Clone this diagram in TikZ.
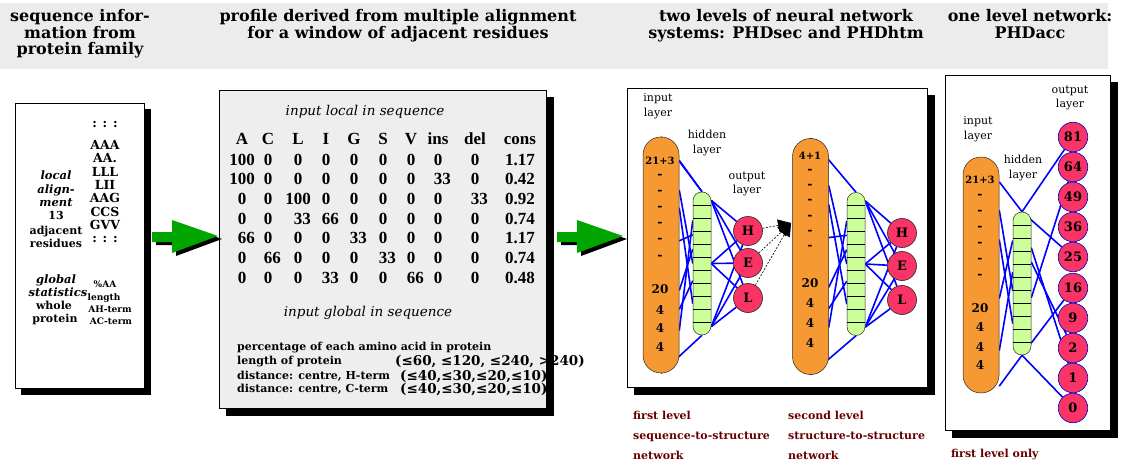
\documentclass[tikz,border=0pt]{standalone}
\usepackage{fontspec}
\setmainfont{Liberation Serif}
\newfontfamily\dvs{DejaVu Serif}
\usetikzlibrary{calc,arrows.meta}

\definecolor{bandgray}{RGB}{236,236,236}
\definecolor{panelgray}{RGB}{238,238,238}
\definecolor{ovalorange}{RGB}{247,153,51}
\definecolor{hidgreen}{RGB}{204,255,153}
\definecolor{outred}{RGB}{250,52,100}
\definecolor{arrowgreen}{RGB}{0,165,0}
\definecolor{notered}{RGB}{102,0,0}

\newcommand\fntHead{\dvs\bfseries\fontsize{16}{16.5}\selectfont}
\newcommand\fntTab{\bfseries\fontsize{17}{17}\selectfont}
\newcommand\fntLbl{\dvs\bfseries\fontsize{11}{11}\selectfont}
\newcommand\fntLblIt{\dvs\bfseries\itshape\fontsize{11.5}{11.5}\selectfont}
\newcommand\fntSeq{\dvs\bfseries\fontsize{12.5}{12.5}\selectfont}
\newcommand\fntSeqSmall{\dvs\bfseries\fontsize{9}{9}\selectfont}
\newcommand\fntItal{\dvs\itshape\fontsize{13.5}{13.5}\selectfont}
\newcommand\fntGlob{\dvs\bfseries\fontsize{11}{11}\selectfont}
\newcommand\fntGlobVal{\dvs\bfseries\fontsize{13.5}{13.5}\selectfont}
\newcommand\fntLayer{\dvs\fontsize{11}{14.5}\selectfont}
\newcommand\fntUnit{\dvs\bfseries\fontsize{12}{12}\selectfont}
\newcommand\fntUnitSmall{\dvs\bfseries\fontsize{10}{10}\selectfont}
\newcommand\fntDash{\dvs\bfseries\fontsize{12.5}{12.5}\selectfont}
\newcommand\fntOut{\dvs\bfseries\fontsize{13}{13}\selectfont}
\newcommand\fntNote{\dvs\bfseries\fontsize{11}{11}\selectfont}

\pgfdeclarelayer{back}
\pgfdeclarelayer{links}
\pgfdeclarelayer{front}
\pgfsetlayers{back,links,main,front}

\tikzset{
  greenarrow/.pic={
    \fill[black] (4,3) -- ++(-46,-16) -- ++(0,12) -- ++(-20,0) -- ++(0,10) -- ++(20,0) -- ++(0,11) -- cycle;
    \fill[arrowgreen] (0,0) -- ++(-46,-16) -- ++(0,12) -- ++(-20,0) -- ++(0,10) -- ++(20,0) -- ++(0,11) -- cycle;
  }
}

\begin{document}
\begin{tikzpicture}[x=1pt,y=-1pt,
  heading/.style={font=\fntHead,align=center,inner sep=0pt,anchor=north},
  panel/.style={draw=black,line width=0.7pt,anchor=north west,inner sep=0pt},
  cell/.style={font=\fntTab,inner sep=0pt,text height=12pt,text depth=0pt},
  lbl/.style={font=\fntLbl,inner sep=0pt,text height=8.3pt,text depth=2.4pt},
  lblit/.style={font=\fntLblIt,inner sep=0pt,text height=8.6pt,text depth=2.5pt},
  seqtag/.style={font=\fntSeq,inner sep=0pt,text height=9.2pt,text depth=0pt},
  seqsmall/.style={font=\fntSeqSmall,inner sep=0pt,text height=6.8pt,text depth=1.8pt},
  ital/.style={font=\fntItal,inner sep=0pt,text height=10pt,text depth=3pt},
  gtext/.style={font=\fntGlob,inner sep=0pt,anchor=west,text height=8.2pt,text depth=2.4pt},
  gval/.style={font=\fntGlobVal,inner sep=0pt,anchor=west,text height=10pt,text depth=3pt},
  layername/.style={font=\fntLayer,align=center,inner sep=0pt},
  inlayer/.style={draw=black!85,line width=0.5pt,fill=ovalorange,minimum width=36pt,minimum height=236pt,rounded corners=17.9pt,inner sep=0pt},
  hidlayer/.style={draw=black!85,line width=0.5pt,fill=hidgreen,minimum width=18pt,minimum height=143pt,rounded corners=8.9pt,inner sep=0pt},
  unittag/.style={font=\fntUnit,inner sep=0pt,text height=8.7pt,text depth=0pt},
  unitsmall/.style={font=\fntUnitSmall,inner sep=0pt,text height=7.3pt,text depth=0pt},
  unitdash/.style={font=\fntDash,inner sep=0pt},
  outunit/.style={circle,draw=black!85,line width=0.6pt,fill=outred,minimum size=29pt,inner sep=0pt,font=\fntOut},
  accunit/.style={outunit,draw=blue!80!black,minimum size=29.5pt},
  link/.style={draw=blue,line width=1.6pt},
  dashlink/.style={draw=black,line width=0.6pt,dash pattern=on 2pt off 1.5pt,-{Triangle[length=13pt,width=12pt]}},
  note/.style={font=\fntNote,text=notered,anchor=west,inner sep=0pt,text height=8.2pt,text depth=2.4pt},
]
\useasboundingbox (0,0) rectangle (1124,468);

% ---------- background band and panels ----------
\begin{pgfonlayer}{back}
  \fill[bandgray] (0,3) rectangle (1108,69);
  \node[panel,fill=white,minimum width=129pt,minimum height=285pt] (seqbox) at (15,103) {};
  \node[panel,fill=panelgray,minimum width=327pt,minimum height=318pt] (profbox) at (219,90) {};
  \node[panel,fill=white,minimum width=300pt,minimum height=299pt] (netbox) at (627,88) {};
  \node[panel,fill=white,minimum width=165pt,minimum height=355pt] (accbox) at (945,75) {};
\end{pgfonlayer}

% ---------- column headings ----------
\node[heading] (h1) at (80,9.5) {sequence infor-\\mation from\\protein family};
\node[heading] (h2) at (398,9.5) {profile derived from multiple alignment\\for a window of adjacent residues};
\node[heading] (h3) at (786,9.5) {two levels of neural network\\systems: PHDsec and PHDhtm};
\node[heading] (h4) at (1030,9.5) {one level network:\\PHDacc};

% ---------- sequence information ----------
\node[lblit] (s1) at (56,176) {local};
\node[lblit] (s2) at (56,190) {align-};
\node[lblit] (s3) at (56,203) {ment};
\node[lbl] (s4) at (56,217) {13};
\node[lbl] (s5) at (56,232) {adjacent};
\node[lbl] (s6) at (56,245) {residues};

\node[seqtag] (a0) at (105,123) {: : :};
\node[seqtag] (a1) at (105,145) {AAA};
\node[seqtag] (a2) at (105,158) {AA.};
\node[seqtag] (a3) at (105,172) {LLL};
\node[seqtag] (a4) at (105,185) {LII};
\node[seqtag] (a5) at (105,198) {AAG};
\node[seqtag] (a6) at (105,212) {CCS};
\node[seqtag] (a7) at (105,225) {GVV};
\node[seqtag] (a8) at (105,238) {: : :};

\node[lblit] (g1) at (56,280) {global};
\node[lblit] (g2) at (58,293) {statistics};
\node[lbl] (g3) at (54,307) {whole};
\node[lbl] (g4) at (55,320) {protein};
\node[seqsmall] (g5) at (105,285) {\%AA};
\node[seqsmall] (g6) at (104,298) {length};
\node[seqsmall] (g7) at (110,310) {AH-term};
\node[seqsmall] (g8) at (111,322) {AC-term};

% ---------- arrows between stages ----------
\coordinate (tipA) at (218,236);
\coordinate (tipB) at (623,236);
\pic at (tipA) {greenarrow};
\pic at (tipB) {greenarrow};

% ---------- profile table ----------
\node[ital] (loctitle) at (365,112) {input local in sequence};
\foreach \lab [count=\c] in {A,C,L,I,G,S,V,ins,del,cons} {
  \pgfmathsetmacro\cx{{242,268,298,326,354,383,411,438,475,520}[\c-1]}
  \node[cell] (col\c) at (\cx,138) {\lab};
}
\foreach \rowvals [count=\r] in {
  {100,0,0,0,0,0,0,0,0,1.17},
  {100,0,0,0,0,0,0,33,0,0.42},
  {0,0,100,0,0,0,0,0,33,0.92},
  {0,0,33,66,0,0,0,0,0,0.74},
  {66,0,0,0,33,0,0,0,0,1.17},
  {0,66,0,0,0,33,0,0,0,0.74},
  {0,0,0,33,0,0,66,0,0,0.48}} {
  \pgfmathsetmacro\ry{159+19.7*(\r-1)}
  \foreach \v [count=\c] in \rowvals {
    \pgfmathsetmacro\cx{{242,268,298,326,354,383,411,438,475,520}[\c-1]}
    \pgfmathtruncatemacro\plain{(\c==10)||(\v==0)}
    \ifnum\plain=1
      \node[cell] (v\r-\c) at (\cx,\ry) {\v};
    \else
      \node[cell,anchor=east] (v\r-\c) at (\cx+13,\ry) {\v};
    \fi
  }
}

\node[ital] (globtitle) at (368,313) {input global in sequence};
\node[gtext] (gl1) at (237,348) {percentage of each amino acid in protein};
\node[gtext] (gl2) at (237,362) {length of protein};
\node[gtext] (gl3) at (237,377) {distance: centre, H-term};
\node[gtext] (gl4) at (237,390) {distance: centre, C-term};
\node[gval] (gv2) at (395,362) {(≤60, ≤120, ≤240, >240)};
\node[gval] (gv3) at (400,377) {(≤40,≤30,≤20,≤10)};
\node[gval] (gv4) at (400,390) {(≤40,≤30,≤20,≤10)};

% ---------- first level network ----------
\node[inlayer] (in1) at (661,255) {};
\node[hidlayer] (hid1) at (702,263.5) {};
\node[outunit] (H1) at (748,231) {H};
\node[outunit] (E1) at (748,263) {E};
\node[outunit] (L1) at (748,298) {L};
\foreach \i in {1,...,10}
  \draw[line width=0.5pt] ($(hid1.north west)!\i/11!(hid1.south west)$) -- ($(hid1.north east)!\i/11!(hid1.south east)$);

\node[layername] (n1in) at (658,106) {input\\layer};
\node[layername] (n1hid) at (707,143) {hidden\\layer};
\node[layername] (n1out) at (747,184) {output\\layer};

\node[unitsmall] (t1a) at (660,161) {21+3};
\foreach \y [count=\k] in {176,192,208,224,240,257}
  \node[unitdash] (t1d\k) at (660,\y) {-};
\node[unittag] (t1b) at (660,289) {20};
\node[unittag] (t1c) at (660,310) {4};
\node[unittag] (t1e) at (660,328) {4};
\node[unittag] (t1f) at (660,347) {4};

\coordinate (merge) at (791,223);
\draw[dashlink] (H1) -- (merge);
\draw[dashlink] (E1) -- (merge);
\draw[dashlink] (L1) -- (merge);

% ---------- second level network ----------
\node[inlayer] (in2) at (810.5,256.5) {};
\node[hidlayer] (hid2) at (856,264) {};
\node[outunit] (H2) at (902,233) {H};
\node[outunit] (E2) at (902,266) {E};
\node[outunit] (L2) at (902,300) {L};
\foreach \i in {1,...,10}
  \draw[line width=0.5pt] ($(hid2.north west)!\i/11!(hid2.south west)$) -- ($(hid2.north east)!\i/11!(hid2.south east)$);

\node[unitsmall] (t2a) at (810,156) {4+1};
\foreach \y [count=\k] in {171,186,201,217,232,247}
  \node[unitdash] (t2d\k) at (810,\y) {-};
\node[unittag] (t2b) at (810,283) {20};
\node[unittag] (t2c) at (810,303) {4};
\node[unittag] (t2e) at (810,323) {4};
\node[unittag] (t2f) at (810,343) {4};

% ---------- accessibility network ----------
\node[inlayer] (in3) at (981,275) {};
\node[hidlayer] (hid3) at (1022,283.5) {};
\foreach \lab/\y in {81/137,64/167,49/197,36/227,25/257,16/288,9/318,2/348,1/378,0/408}
  \node[accunit] (o\lab) at (1073,\y) {\lab};
\foreach \i in {1,...,10}
  \draw[line width=0.5pt] ($(hid3.north west)!\i/11!(hid3.south west)$) -- ($(hid3.north east)!\i/11!(hid3.south east)$);

\node[layername] (n3out) at (1070,98) {output\\layer};
\node[layername] (n3in) at (978,129) {input\\layer};
\node[layername] (n3hid) at (1023,168) {hidden\\layer};

\node[unitsmall] (t3a) at (980,180) {21+3};
\foreach \y [count=\k] in {196,212,228,244,260,276}
  \node[unitdash] (t3d\k) at (980,\y) {-};
\node[unittag] (t3b) at (980,308) {20};
\node[unittag] (t3c) at (980,327) {4};
\node[unittag] (t3e) at (980,347) {4};
\node[unittag] (t3f) at (980,365) {4};

% ---------- weighted connections ----------
\begin{pgfonlayer}{links}
  % first level: input -> hidden
  \draw[link] (in1.north) -- (hid1.north);
  \draw[link] ($(in1.north east)!0.1!(in1.south east)$) -- (hid1.north);
  \draw[link] ($(in1.north east)!0.225!(in1.south east)$) -- ($(hid1.north west)!0.5!(hid1.south west)$);
  \draw[link] ($(in1.north east)!0.3!(in1.south east)$) -- ($(hid1.north west)!0.78!(hid1.south west)$);
  \draw[link] ($(in1.north east)!0.44!(in1.south east)$) -- ($(hid1.north west)!0.3!(hid1.south west)$);
  \draw[link] ($(in1.north east)!0.65!(in1.south east)$) -- ($(hid1.north west)!0.4!(hid1.south west)$);
  \draw[link] ($(in1.north east)!0.73!(in1.south east)$) -- ($(hid1.north west)!0.62!(hid1.south west)$);
  \draw[link] ($(in1.north east)!0.82!(in1.south east)$) -- ($(hid1.north west)!0.2!(hid1.south west)$);
  \draw[link] (in1.south) -- (hid1.south);
  % first level: hidden -> output
  \foreach \f in {0.06,0.5,0.94}
    \foreach \o in {H1,E1,L1}
      \draw[link] ($(hid1.north east)!\f!(hid1.south east)$) -- (\o);
  % second level: input -> hidden
  \draw[link] (in2.north) -- (hid2.north);
  \draw[link] ($(in2.north east)!0.2!(in2.south east)$) -- ($(hid2.north west)!0.5!(hid2.south west)$);
  \draw[link] ($(in2.north east)!0.28!(in2.south east)$) -- ($(hid2.north west)!0.78!(hid2.south west)$);
  \draw[link] ($(in2.north east)!0.42!(in2.south east)$) -- ($(hid2.north west)!0.3!(hid2.south west)$);
  \draw[link] ($(in2.north east)!0.63!(in2.south east)$) -- ($(hid2.north west)!0.4!(hid2.south west)$);
  \draw[link] ($(in2.north east)!0.72!(in2.south east)$) -- ($(hid2.north west)!0.62!(hid2.south west)$);
  \draw[link] ($(in2.north east)!0.8!(in2.south east)$) -- ($(hid2.north west)!0.2!(hid2.south west)$);
  \draw[link] (in2.south) -- (hid2.south);
  % second level: hidden -> output
  \foreach \f in {0.06,0.5,0.94}
    \foreach \o in {H2,E2,L2}
      \draw[link] ($(hid2.north east)!\f!(hid2.south east)$) -- (\o);
  % accessibility: input -> hidden
  \draw[link] ($(in3.north east)!0.106!(in3.south east)$) -- (hid3.north);
  \draw[link] ($(in3.north east)!0.225!(in3.south east)$) -- ($(hid3.north west)!0.55!(hid3.south west)$);
  \draw[link] ($(in3.north east)!0.35!(in3.south east)$) -- ($(hid3.north west)!0.78!(hid3.south west)$);
  \draw[link] ($(in3.north east)!0.6!(in3.south east)$) -- ($(hid3.north west)!0.2!(hid3.south west)$);
  \draw[link] ($(in3.north east)!0.82!(in3.south east)$) -- ($(hid3.north west)!0.42!(hid3.south west)$);
  \draw[link] ($(in3.north east)!0.97!(in3.south east)$) -- (hid3.south);
  % accessibility: hidden -> output
  \draw[link] (hid3.north) -- (o81);
  \draw[link] (hid3.north) -- (o25);
  \draw[link] ($(hid3.north east)!0.25!(hid3.south east)$) -- (o1);
  \draw[link] ($(hid3.north east)!0.35!(hid3.south east)$) -- (o2);
  \draw[link] ($(hid3.north east)!0.6!(hid3.south east)$) -- (o64);
  \draw[link] (hid3.south) -- (o16);
  \draw[link] (hid3.south) -- (o0);
\end{pgfonlayer}

% ---------- captions under the networks ----------
\node[note] (c1a) at (633,417) {first level};
\node[note] (c1b) at (633,437) {sequence-to-structure};
\node[note] (c1c) at (633,457) {network};
\node[note] (c2a) at (788,417) {second level};
\node[note] (c2b) at (788,437) {structure-to-structure};
\node[note] (c2c) at (788,457) {network};
\node[note] (c3a) at (951,455) {first level only};

% ---------- drop shadows ----------
\begin{pgfonlayer}{front}
  \foreach \b/\s in {seqbox/6,profbox/7,netbox/7,accbox/7} {
    \fill ($(\b.north east)+(0,\s)$) rectangle ($(\b.south east)+(\s,\s)$);
    \fill ($(\b.south west)+(\s,0)$) rectangle ($(\b.south east)+(\s,\s)$);
  }
\end{pgfonlayer}
\end{tikzpicture}
\end{document}
